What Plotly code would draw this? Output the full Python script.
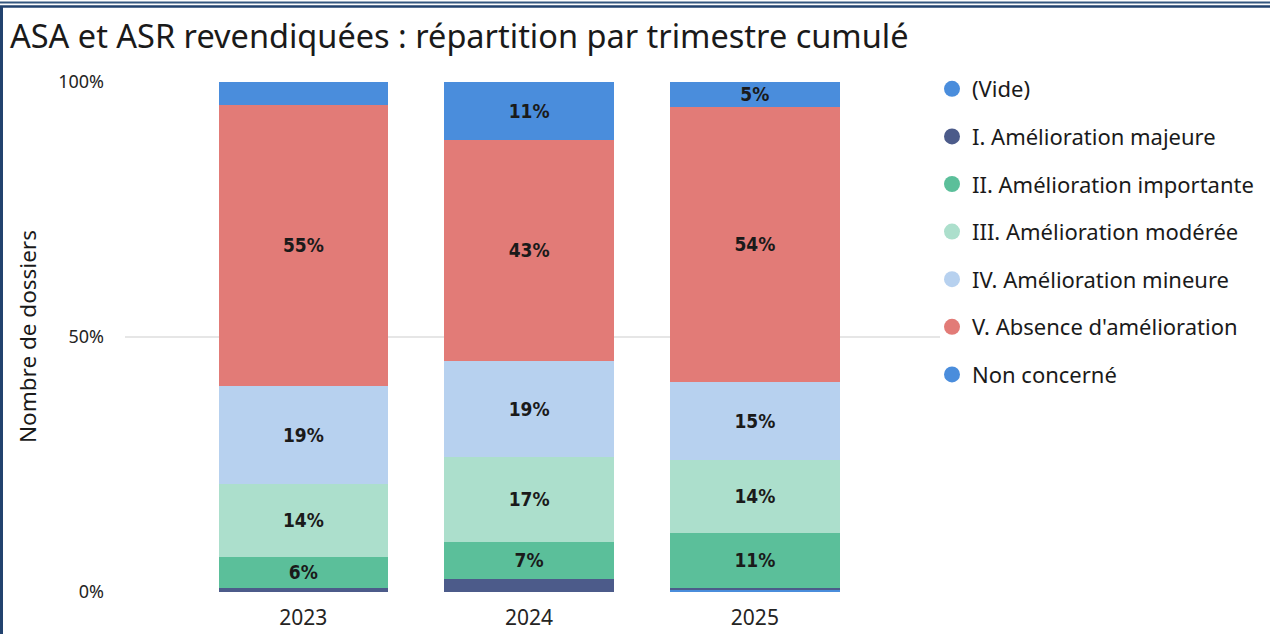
import plotly.graph_objects as go

years = ["2023", "2024", "2025"]
series_names = ["Non concerné", "I. Amélioration majeure", "II. Amélioration importante",
                "III. Amélioration modérée", "IV. Amélioration mineure",
                "V. Absence d'amélioration", "(Vide)"]
non_concerne = [0.0, 0.0, 0.4]
majeure = [0.8, 2.5, 0.4]
importante = [6.1, 7.4, 10.8]
moderee = [14.3, 16.6, 14.3]
mineure = [19.2, 18.8, 15.3]
absence = [55.1, 43.4, 53.9]
vide = [4.5, 11.3, 4.9]
values = [non_concerne, majeure, importante, moderee, mineure, absence, vide]
colors = ["#4A8DDC", "#4C5B8A", "#5BBF9A", "#ACDFCC", "#B7D1EF", "#E27B77", "#4A8DDC"]
legend_order = ["(Vide)", "I. Amélioration majeure", "II. Amélioration importante",
                "III. Amélioration modérée", "IV. Amélioration mineure",
                "V. Absence d'amélioration", "Non concerné"]
y_ticks = [0, 50, 100]
y_tick_labels = ["0%", "50%", "100%"]

W, H = 1270, 634
L, R, T, B = 125, 940, 82, 592
pw, ph = R - L, B - T

def px_x(x):
    return (x - L) / pw

def px_y(y):
    return (B - y) / ph

fig = go.Figure()
for name, vals, col in zip(series_names, values, colors):
    txt = [f"{v:.0f}%" if v >= 4.8 else "" for v in vals]
    fig.add_trace(go.Bar(
        x=years, y=vals, name=name, marker=dict(color=col, line=dict(width=0)),
        text=txt, textposition="inside", insidetextanchor="middle",
        textangle=0, constraintext="none",
        textfont=dict(family="DejaVu Sans Condensed, DejaVu Sans, sans-serif", size=19,
                      color="#1a1a1a", weight="bold"),
        showlegend=False, hoverinfo="skip",
    ))

for i, name in enumerate(legend_order):
    col = colors[series_names.index(name)]
    fig.add_trace(go.Scatter(
        x=[None], y=[None], mode="markers", name=name,
        marker=dict(symbol="circle", size=20, color=col),
        legendgroup=f"g{i}", showlegend=True,
    ))

shapes = [
    dict(type="line", xref="paper", yref="paper", x0=px_x(0), x1=px_x(W), y0=px_y(2.5), y1=px_y(2.5),
         line=dict(color="#35577F", width=2)),
    dict(type="line", xref="paper", yref="paper", x0=px_x(0), x1=px_x(W), y0=px_y(6.5), y1=px_y(6.5),
         line=dict(color="#22426E", width=2.5)),
    dict(type="line", xref="paper", yref="paper", x0=px_x(1.5), x1=px_x(1.5), y0=px_y(6), y1=px_y(H),
         line=dict(color="#22426E", width=3)),
]

fig.update_layout(
    width=W, height=H,
    margin=dict(l=L, r=W - R, t=T, b=H - B, pad=0, autoexpand=False),
    paper_bgcolor="white", plot_bgcolor="white",
    barmode="stack", bargap=0.25,
    font=dict(family="Noto Sans", color="#252423"),
    title=dict(text="ASA et ASR revendiquées : répartition par trimestre cumulé",
               x=10 / W, xanchor="left", xref="container",
               y=1 - 37 / H, yanchor="middle", yref="container",
               font=dict(family="Noto Sans", size=32.5, color="#1a1a1a")),
    xaxis=dict(type="category", range=[-0.79, 2.82], showgrid=False, showline=False,
               ticks="", tickfont=dict(family="Noto Sans", size=21, color="#252423"),
               ticklabelstandoff=11, fixedrange=True, automargin=False),
    yaxis=dict(range=[0, 100], tickvals=y_ticks, ticktext=y_tick_labels,
               showgrid=True, gridcolor="#E6E6E6", gridwidth=2,
               zeroline=False, showline=False, ticks="",
               tickfont=dict(family="Noto Sans", size=18, color="#252423"),
               ticklabelstandoff=20, fixedrange=True, automargin=False),
    legend=dict(x=px_x(932), y=px_y(68), xanchor="left", yanchor="top",
                font=dict(family="Noto Sans", size=22, color="#1a1a1a"),
                tracegroupgap=16, bgcolor="rgba(0,0,0,0)",
                maxheight=600),
    shapes=shapes,
    annotations=[dict(text="Nombre de dossiers", xref="paper", yref="paper",
                      x=px_x(27), y=0.5, xanchor="center", yanchor="middle",
                      textangle=-90, showarrow=False,
                      font=dict(family="Noto Sans", size=22.5, color="#1a1a1a"))],
)

fig.write_html("out.html", config={"displayModeBar": False},
               post_script="document.body.style.margin='0';document.body.style.padding='0';")
